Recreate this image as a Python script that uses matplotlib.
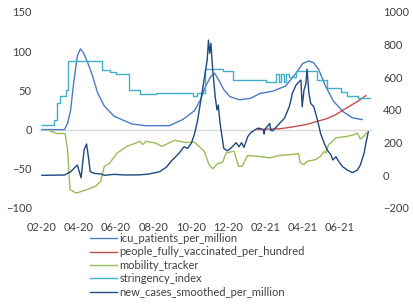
import pandas as pd
import numpy as np
import matplotlib
matplotlib.use('Agg')
import matplotlib.pyplot as plt
import matplotlib.dates as mdates

plt.rcParams['font.family'] = ['Lato', 'DejaVu Sans']

# icu_patients_per_million (left axis)
icu_dates = ['2020-02-01', '2020-03-09', '2020-03-14', '2020-03-19', '2020-03-24', '2020-03-30',
             '2020-04-04', '2020-04-09', '2020-04-16', '2020-04-24', '2020-05-02', '2020-05-13',
             '2020-05-29', '2020-06-17', '2020-06-28', '2020-07-20', '2020-08-27', '2020-09-18',
             '2020-10-07', '2020-10-17', '2020-10-25', '2020-11-03', '2020-11-09', '2020-11-16',
             '2020-11-24', '2020-12-04', '2020-12-20', '2021-01-07', '2021-01-22', '2021-02-12',
             '2021-03-05', '2021-03-22', '2021-04-02', '2021-04-12', '2021-04-20', '2021-04-28',
             '2021-05-09', '2021-05-22', '2021-06-06', '2021-06-22', '2021-07-08']
icu_vals = [0, 0, 8, 25, 60, 94, 103, 98, 85, 68, 47, 30, 17, 10.6, 7, 5, 5, 12.8,
            24, 38, 55, 68, 72, 63, 51, 42, 38, 40, 46, 49, 55.6, 72, 84.5, 87.6, 85, 76.5,
            55.6, 36.4, 23.4, 15, 12.8]

# people_fully_vaccinated_per_hundred (left axis)
vac_dates = ['2021-01-19', '2021-02-01', '2021-02-23', '2021-03-16', '2021-04-07', '2021-04-26',
             '2021-05-10', '2021-05-26', '2021-06-08', '2021-06-22', '2021-07-05', '2021-07-14']
vac_vals = [0, 0.5, 1, 3.4, 6.4, 10.6, 13.6, 19, 25.5, 32, 38.3, 43.4]

# mobility_tracker (left axis)
mob_dates = ['2020-02-15', '2020-02-26', '2020-03-10', '2020-03-14', '2020-03-18', '2020-03-28',
             '2020-04-15', '2020-04-29', '2020-05-07', '2020-05-13', '2020-05-21', '2020-06-03',
             '2020-06-19', '2020-06-27', '2020-07-10', '2020-07-15', '2020-07-20', '2020-08-04',
             '2020-08-15', '2020-09-05', '2020-09-22', '2020-10-07', '2020-10-23', '2020-10-31',
             '2020-11-06', '2020-11-14', '2020-11-22', '2020-11-28', '2020-12-11', '2020-12-18',
             '2020-12-24', '2021-01-02', '2021-01-18', '2021-02-07', '2021-02-23', '2021-03-11',
             '2021-03-26', '2021-03-29', '2021-04-04', '2021-04-09', '2021-04-23', '2021-05-01',
             '2021-05-07', '2021-05-10', '2021-05-14', '2021-05-18', '2021-05-26', '2021-06-06',
             '2021-06-14', '2021-06-25', '2021-06-30', '2021-07-05', '2021-07-09', '2021-07-15']
mob_vals = [-2, -5, -5, -25.5, -76.5, -81, -76.5, -72, -66, -46.8, -43.4, -29.8,
            -21.3, -19, -15, -19, -15, -17, -21.3, -13.6, -16.5, -16, -27.6, -44.6,
            -50, -43.4, -41.7, -29.8, -27.6, -46.8, -46.8, -33, -34, -36, -33, -32,
            -30.6, -42.5, -44.6, -40.4, -38.3, -34, -27.6, -30, -19, -17, -10.6, -9.4,
            -8.5, -6.4, -4.3, -12, -10, -4.3]

# stringency_index (left axis, step changes)
str_dates = ['2020-02-01', '2020-02-21', '2020-02-26', '2020-03-01', '2020-03-12', '2020-03-15',
             '2020-05-09', '2020-05-23', '2020-06-01', '2020-06-22', '2020-07-10', '2020-08-05',
             '2020-10-04', '2020-10-11', '2020-10-25', '2020-11-22', '2020-12-09', '2021-02-01',
             '2021-02-18', '2021-02-22', '2021-02-26', '2021-03-02', '2021-03-05', '2021-03-10',
             '2021-03-22', '2021-04-26', '2021-05-12', '2021-06-03', '2021-06-14', '2021-07-01',
             '2021-07-20']
str_vals = [5.6, 12.8, 34, 43, 51, 87, 75.6, 74, 71.4, 51, 45.5, 46.8,
            43.4, 46.8, 77.4, 74.4, 63.8, 60.7, 70.5, 60.7, 70.5, 60.7, 70.5, 67.3,
            74.4, 63.8, 53, 48, 43, 40.5, 40.5]

# new_cases_smoothed_per_million (right axis)
nc_dates = ['2020-02-01', '2020-03-09', '2020-03-19', '2020-03-30', '2020-04-05', '2020-04-10',
            '2020-04-14', '2020-04-17', '2020-04-20', '2020-04-27', '2020-05-08', '2020-05-13',
            '2020-05-29', '2020-06-17', '2020-07-10', '2020-07-25', '2020-08-11', '2020-08-22',
            '2020-09-01', '2020-09-12', '2020-09-20', '2020-09-26', '2020-10-02', '2020-10-07',
            '2020-10-12', '2020-10-18', '2020-10-23', '2020-10-28', '2020-10-30', '2020-11-01',
            '2020-11-03', '2020-11-06', '2020-11-10', '2020-11-13', '2020-11-15', '2020-11-18',
            '2020-11-24', '2020-11-30', '2020-12-08', '2020-12-14', '2020-12-19', '2020-12-23',
            '2020-12-27', '2021-01-02', '2021-01-07', '2021-01-18', '2021-01-22', '2021-01-28',
            '2021-01-29', '2021-01-30', '2021-02-07', '2021-02-09', '2021-02-12', '2021-02-18',
            '2021-02-23', '2021-03-03', '2021-03-11', '2021-03-16', '2021-03-22', '2021-03-27',
            '2021-03-30', '2021-04-01', '2021-04-04', '2021-04-07', '2021-04-09', '2021-04-12',
            '2021-04-15', '2021-04-20', '2021-04-26', '2021-05-01', '2021-05-07', '2021-05-12',
            '2021-05-18', '2021-05-21', '2021-05-26', '2021-05-31', '2021-06-06', '2021-06-14',
            '2021-06-22', '2021-06-30', '2021-07-05', '2021-07-11', '2021-07-14', '2021-07-18']
nc_vals = [0, 2, 22, 63, -15, 155, 192, 114, 22, 12, 8, 0,
           6, 2, 3, 8, 22, 49, 94, 135, 175, 165, 196, 250,
           330, 470, 590, 706, 828, 747, 808, 644, 481, 400, 430, 318,
           165, 150, 175, 200, 175, 200, 171, 236, 261, 288, 288, 277,
           253, 280, 318, 275, 273, 297, 318, 349, 420, 502, 553, 573,
           583, 420, 522, 560, 650, 502, 440, 420, 338, 257, 196, 155,
           124, 94, 114, 83, 53, 32, 16, 32, 63, 135, 196, 267]

col_icu = '#4A7BC4'
col_vac = '#C0504D'
col_mob = '#9BBB59'
col_str = '#3FAFCB'
col_nc = '#1F497D'
txt = '#404040'

fig = plt.figure(figsize=(4.13, 3.04), dpi=100)
ax = fig.add_axes([40/413, 1-208/304, 332/413, 196/304])
ax2 = ax.twinx()

lw = 1.0
ax.axhline(0, color='#D9D9D9', lw=1.0, zorder=1)
h1, = ax.plot(pd.to_datetime(icu_dates), icu_vals, color=col_icu, lw=lw, label='icu_patients_per_million')
h2, = ax.plot(pd.to_datetime(vac_dates), vac_vals, color=col_vac, lw=lw, label='people_fully_vaccinated_per_hundred')
h3, = ax.plot(pd.to_datetime(mob_dates), mob_vals, color=col_mob, lw=lw, label='mobility_tracker')
h4, = ax.plot(pd.to_datetime(str_dates), str_vals, color=col_str, lw=lw, drawstyle='steps-post', label='stringency_index')
h5, = ax2.plot(pd.to_datetime(nc_dates), nc_vals, color=col_nc, lw=lw, label='new_cases_smoothed_per_million')

ax.set_ylim(-100, 150)
ax.set_yticks(np.arange(-100, 151, 50))
ax2.set_ylim(-200, 1000)
ax2.set_yticks(np.arange(-200, 1001, 200))
ax.set_xlim(pd.Timestamp('2020-01-29'), pd.Timestamp('2021-07-24'))

ax.xaxis.set_major_locator(mdates.MonthLocator(bymonth=[2, 4, 6, 8, 10, 12]))
ax.xaxis.set_major_formatter(mdates.DateFormatter('%m-%y'))

for a in (ax, ax2):
    for s in a.spines.values():
        s.set_visible(False)
    a.tick_params(length=0, labelsize=8, labelcolor=txt)
ax.tick_params(axis='x', pad=10)
ax.tick_params(axis='y', pad=6)
ax2.tick_params(axis='y', pad=8)

fig.legend(handles=[h1, h2, h3, h4, h5], loc='upper left', bbox_to_anchor=(90/413, 1-233/304),
           frameon=False, fontsize=8, labelcolor=txt, handlelength=2.4, handletextpad=0.25,
           labelspacing=0.22, borderpad=0, borderaxespad=0)

fig.savefig('out.png', dpi=100)
